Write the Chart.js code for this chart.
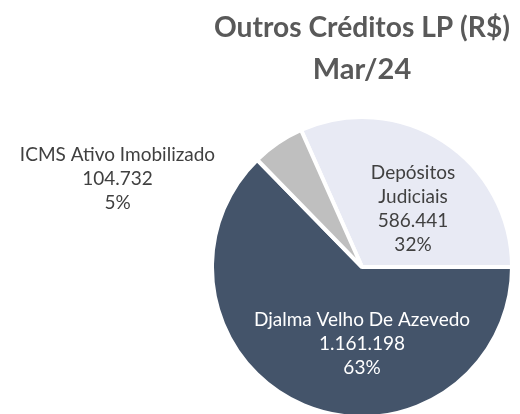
<!DOCTYPE html>
<html>
<head>
<meta charset="utf-8">
<script src="https://cdn.jsdelivr.net/npm/chart.js@4.4.1/dist/chart.umd.min.js"></script>
<style>
  html, body { margin: 0; padding: 0; background: #fff; }
  #wrap { width: 520px; height: 414px; position: relative; }
</style>
</head>
<body>
<div id="wrap"><canvas id="pie"></canvas></div>
<script>
// === Dados ===
const TITLE_LINES = ["Outros Créditos LP (R$)", "Mar/24"];
const CATEGORIES = [["Depósitos", "Judiciais"], ["Djalma Velho De Azevedo"], ["ICMS Ativo Imobilizado"]];
const VALUES = [586441, 1161198, 104732];
const PERCENTS = ["32%", "63%", "5%"];

// === Estilo ===
const COLORS = ["#E8EAF4", "#44546A", "#BFBFBF"];
const TEXT_COLORS = ["#404040", "#FFFFFF", "#404040"];
// deslocamento do centro do rótulo, em frações do raio
const LABEL_OFFSETS = [[0.34, -0.39], [0.0, 0.51], [-1.63, -0.59]];
const FONT = "Lato";

const total = VALUES.reduce((a, b) => a + b, 0);
const fmt = (n) => String(n).replace(/\B(?=(\d{3})+(?!\d))/g, ".");

// rótulos desenhados sobre o gráfico
const pieLabels = {
  id: "pieLabels",
  afterDatasetsDraw(chart) {
    const meta = chart.getDatasetMeta(0);
    const ctx = chart.ctx;
    ctx.save();
    ctx.font = "19px " + FONT;
    ctx.textAlign = "center";
    ctx.textBaseline = "middle";
    const lh = 24;
    meta.data.forEach((arc, i) => {
      const r = arc.outerRadius;
      const cx = arc.x + LABEL_OFFSETS[i][0] * r;
      const cy = arc.y + LABEL_OFFSETS[i][1] * r;
      const lines = CATEGORIES[i].concat([fmt(VALUES[i]), PERCENTS[i]]);
      const y0 = cy - (lines.length - 1) * lh / 2;
      ctx.fillStyle = TEXT_COLORS[i];
      lines.forEach((t, k) => ctx.fillText(t, cx, y0 + k * lh));
    });
    ctx.restore();
  }
};

const rotation = 90 - VALUES[0] / total * 360;

new Chart(document.getElementById("pie"), {
  type: "pie",
  data: {
    labels: CATEGORIES.map(c => c.join(" ")),
    datasets: [{
      data: VALUES,
      backgroundColor: COLORS,
      borderColor: "#FFFFFF",
      borderWidth: 4,
      radius: 150
    }]
  },
  options: {
    responsive: true,
    maintainAspectRatio: false,
    animation: false,
    rotation: rotation,
    layout: { padding: { left: 214, right: 10, top: 0, bottom: 0 } },
    plugins: {
      legend: { display: false },
      tooltip: { enabled: false },
      title: {
        display: true,
        text: TITLE_LINES,
        color: "#595959",
        font: { family: FONT, size: 29, weight: "bold", lineHeight: 1.45 },
        padding: { top: 7, bottom: 29 }
      }
    }
  },
  plugins: [pieLabels]
});
</script>
</body>
</html>
